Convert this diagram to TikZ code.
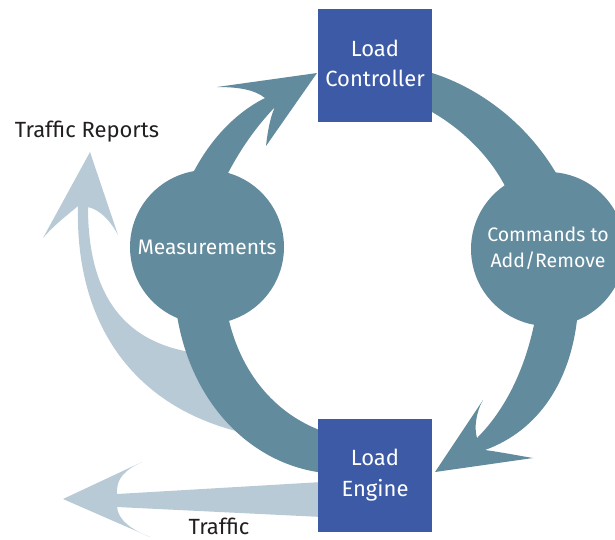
\documentclass[tikz,border=0pt]{standalone}
\usepackage{fontspec}
\setmainfont{Fira Sans}
\definecolor{teal}{HTML}{628B9D}
\definecolor{pale}{HTML}{B8CAD6}
\definecolor{boxblue}{HTML}{3C5AA5}
\definecolor{ink}{HTML}{231F20}
\begin{document}
\begin{tikzpicture}[x=1pt,y=-1pt,
  band/.style={fill=teal,draw=none},
  paleband/.style={fill=pale,draw=none},
  unitbox/.style={fill=boxblue,draw=none,minimum width=114pt,minimum height=113pt},
  unittext/.style={text=white,align=center,font=\fontsize{22}{30.5}\selectfont},
  hub/.style={circle,fill=teal,draw=none,minimum size=154pt,inner sep=0pt},
  hubtext/.style={text=white,align=center},
  caption/.style={text=ink,inner sep=0pt,anchor=base,font=\fontsize{22}{24}\selectfont}]
\useasboundingbox (0,0) rectangle (615,539);

% pale arrow: traffic reports, rising from behind the lower band
\fill[paleband] (240,432) .. controls (130,405) and (75,320) .. (78,206)
  .. controls (70,213) and (55,224) .. (43,238) -- (90,152) -- (118,235)
  .. controls (110,220) and (100,210) .. (88,207)
  .. controls (88,290) and (120,340) .. (190,352) -- (255,400) -- cycle;

% pale arrow: traffic leaving the load engine
\fill[paleband] (322,482) -- (117,494) .. controls (116,478) and (125,470) .. (142,462)
  -- (63,499) -- (150,537) .. controls (132,530) and (118,520) .. (117,507)
  -- (322,517) -- cycle;

% band: measurements down to the load engine
\fill[band] (175,300) .. controls (185,400) and (250,465) .. (325,473)
  -- (325,432) .. controls (275,415) and (235,370) .. (225,300) -- cycle;

% arrow: measurements up to the load controller
\fill[band] (185,200) -- (193,173) .. controls (210,140) and (235,113) .. (265,98)
  .. controls (255,90) and (240,87) .. (217,87) -- (317,73) -- (266,146)
  .. controls (268,128) and (271,115) .. (275,107)
  .. controls (255,128) and (240,150) .. (227,175) -- (225,200) -- cycle;

% band: load controller over to the commands hub
\fill[band] (425,73) -- (432,73) .. controls (480,88) and (530,125) .. (560,180)
  -- (507,190) .. controls (490,155) and (460,128) .. (432,112) -- (425,112) -- cycle;

% arrow: commands hub down to the load engine
\fill[band] (577,300) -- (577,320) .. controls (570,380) and (540,430) .. (485,450)
  .. controls (500,452) and (515,455) .. (533,458) -- (435,472) -- (483,400)
  .. controls (476,412) and (474,428) .. (477,438)
  .. controls (505,410) and (525,370) .. (535,320) -- (535,300) -- cycle;

% hubs
\node[hub] (meas) at (207,247) {};
\node[hub] (cmd) at (548,249) {};
\node[hubtext,font=\fontsize{21}{24}\selectfont] (measlbl) at (meas.center) {Measurements};
\node[hubtext,font=\fontsize{19.5}{25.5}\selectfont] (cmdlbl) at (548,248) {Commands to\\Add/Remove};

% units
\node[unitbox] (lc) at (375,65.5) {};
\node[unitbox] (le) at (375,475.5) {};
\node[unittext] (lclbl) at (375,63.5) {Load\\Controller};
\node[unittext] (lelbl) at (375,475) {Load\\Engine};

% captions
\node[caption] (rep) at (87,137) {Traffic Reports};
\node[caption] (trf) at (219,534.5) {Traffic};
\end{tikzpicture}
\end{document}
